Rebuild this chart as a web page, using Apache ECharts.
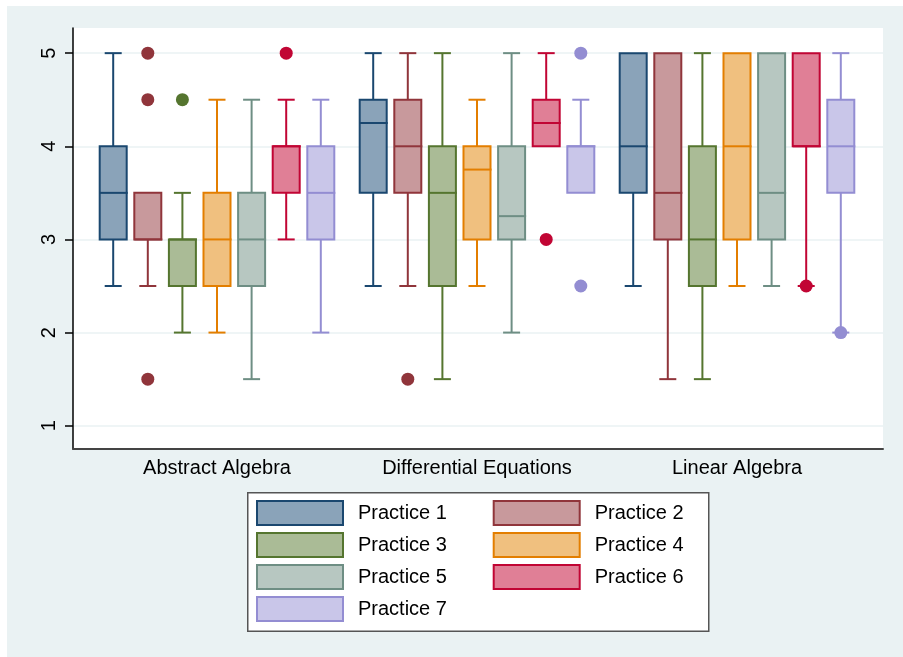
<!DOCTYPE html>
<html><head><meta charset="utf-8">
<script src="https://cdn.jsdelivr.net/npm/echarts@6/dist/echarts.min.js"></script>
<style>html,body{margin:0;padding:0;background:#fff}#c{width:903px;height:657px}</style>
</head><body><div id="c"></div>
<script>
// ---- data ----
const categories = ['Abstract Algebra', 'Differential Equations', 'Linear Algebra'];
const seriesNames = ['Practice 1', 'Practice 2', 'Practice 3', 'Practice 4', 'Practice 5', 'Practice 6', 'Practice 7'];
const yTicks = [1, 2, 3, 4, 5];
// [lower adjacent, q1, median, q3, upper adjacent] per category
const practice1 = [[2.5, 3, 3.5, 4, 5], [2.5, 3.5, 4.25, 4.5, 5], [2.5, 3.5, 4, 5, 5]];
const practice2 = [[2.5, 3, 3, 3.5, 3.5], [2.5, 3.5, 4, 4.5, 5], [1.5, 3, 3.5, 5, 5]];
const practice3 = [[2, 2.5, 3, 3, 3.5], [1.5, 2.5, 3.5, 4, 5], [1.5, 2.5, 3, 4, 5]];
const practice4 = [[2, 2.5, 3, 3.5, 4.5], [2.5, 3, 3.75, 4, 4.5], [2.5, 3, 4, 5, 5]];
const practice5 = [[1.5, 2.5, 3, 3.5, 4.5], [2, 3, 3.25, 4, 5], [2.5, 3, 3.5, 5, 5]];
const practice6 = [[3, 3.5, 4, 4, 4.5], [4, 4, 4.25, 4.5, 5], [2.5, 4, 4, 5, 5]];
const practice7 = [[2, 3, 3.5, 4, 4.5], [3.5, 3.5, 4, 4, 4.5], [2, 3.5, 4, 4.5, 5]];
// outliers: [category index, value]
const outliers1 = [];
const outliers2 = [[0, 5], [0, 4.5], [0, 1.5], [1, 1.5]];
const outliers3 = [[0, 4.5]];
const outliers4 = [];
const outliers5 = [];
const outliers6 = [[0, 5], [1, 3], [2, 2.5]];
const outliers7 = [[1, 5], [1, 2.5], [2, 2]];

// ---- styles ----
const strokeColors = ['#1a476f', '#90353b', '#55752f', '#e37e00', '#6e8e84', '#c10534', '#938dd2'];
const fillColors = ['#8aa3b9', '#c8999c', '#aabb96', '#f0c07f', '#b7c7c1', '#e07f96', '#c9c6e9'];
const BG = '#eaf2f3';
const FONT = 'Liberation Sans, Arial, Helvetica, sans-serif';
const PITCH = 34.6 / 260, BOXW = 27 / 260, CAPW = 17 / 260;

const boxes = [practice1, practice2, practice3, practice4, practice5, practice6, practice7];
const outs = [outliers1, outliers2, outliers3, outliers4, outliers5, outliers6, outliers7];

function boxRender(k) {
  return function (params, api) {
    const cat = api.value(0);
    const band = api.size([1, 0])[0];
    const cx = api.coord([cat, 3])[0] + (k - 3) * band * PITCH;
    const y = [1, 2, 3, 4, 5].map(i => api.coord([cat, api.value(i)])[1]);
    const bw = band * BOXW, cw = band * CAPW;
    const ls = { stroke: strokeColors[k], lineWidth: 2 };
    const ch = [];
    if (api.value(5) > api.value(4)) {
      ch.push({ type: 'line', shape: { x1: cx, y1: y[3], x2: cx, y2: y[4] }, style: ls });
      ch.push({ type: 'line', shape: { x1: cx - cw / 2, y1: y[4], x2: cx + cw / 2, y2: y[4] }, style: ls });
    }
    if (api.value(1) < api.value(2)) {
      ch.push({ type: 'line', shape: { x1: cx, y1: y[1], x2: cx, y2: y[0] }, style: ls });
      ch.push({ type: 'line', shape: { x1: cx - cw / 2, y1: y[0], x2: cx + cw / 2, y2: y[0] }, style: ls });
    }
    ch.push({ type: 'rect', shape: { x: cx - bw / 2, y: y[3], width: bw, height: y[1] - y[3] },
      style: { fill: fillColors[k], stroke: strokeColors[k], lineWidth: 2 } });
    ch.push({ type: 'line', shape: { x1: cx - bw / 2, y1: y[2], x2: cx + bw / 2 + 1, y2: y[2] }, style: ls });
    return { type: 'group', children: ch };
  };
}
function outRender(k) {
  return function (params, api) {
    const cat = api.value(0);
    const band = api.size([1, 0])[0];
    const p = api.coord([cat, api.value(1)]);
    const cx = p[0] + (k - 3) * band * PITCH;
    return { type: 'circle', shape: { cx: cx, cy: p[1], r: 6.5 }, style: { fill: strokeColors[k] } };
  };
}

const series = [];
boxes.forEach((b, k) => {
  series.push({
    name: seriesNames[k], type: 'custom', xAxisIndex: 1, yAxisIndex: 1,
    itemStyle: { color: fillColors[k], borderColor: strokeColors[k] },
    renderItem: boxRender(k), encode: { x: 0, y: [1, 2, 3, 4, 5] },
    data: b.map((s, i) => [i].concat(s)), silent: true, z: 2
  });
});
outs.forEach((o, k) => {
  series.push({
    name: seriesNames[k] + ' outliers', type: 'custom', xAxisIndex: 1, yAxisIndex: 1,
    renderItem: outRender(k), encode: { x: 0, y: 1 }, data: o, silent: true, z: 3
  });
});

function legendData(idx) {
  return idx.map(k => ({ name: seriesNames[k], icon: 'rect',
    itemStyle: { color: fillColors[k], borderColor: strokeColors[k], borderWidth: 2 } }));
}
const legendCommon = { orient: 'vertical', top: 500, padding: 0, itemWidth: 86, itemHeight: 24, itemGap: 6,
  selectedMode: false, textStyle: { fontSize: 20, lineHeight: 24, color: '#000', fontFamily: FONT, padding: [0, 0, 0, 10] } };

const chart = echarts.init(document.getElementById('c'), null, { renderer: 'canvas' });
chart.setOption({
  backgroundColor: '#fff',
  animation: false,
  textStyle: { fontFamily: FONT },
  graphic: [
    { type: 'rect', left: 7, top: 6, shape: { width: 896, height: 651 }, style: { fill: BG }, z: -10, silent: true },
    { type: 'rect', left: 247, top: 492, shape: { width: 461, height: 138.5 },
      style: { fill: '#fff', stroke: '#555', lineWidth: 1.5 }, z: 1, silent: true }
  ],
  legend: [
    Object.assign({ left: 256, data: legendData([0, 2, 4, 6]) }, legendCommon),
    Object.assign({ left: 492.7, data: legendData([1, 3, 5]) }, legendCommon)
  ],
  grid: [
    { left: 73, right: 20, top: 28, bottom: 208, show: true, backgroundColor: '#fff', borderWidth: 0 },
    { left: 87, width: 780, top: 28, bottom: 208 }
  ],
  xAxis: [
    { type: 'category', gridIndex: 0, data: categories,
      axisLine: { show: true, lineStyle: { color: '#444', width: 2 } },
      axisTick: { show: false }, axisLabel: { show: false }, splitLine: { show: false } },
    { type: 'category', gridIndex: 1, data: categories,
      axisLine: { show: false }, axisTick: { show: false },
      axisLabel: { fontSize: 20, color: '#000', margin: 9, fontFamily: FONT } }
  ],
  yAxis: [
    { type: 'value', gridIndex: 0, min: 0.75, max: 5.27,
      axisLine: { show: true, lineStyle: { color: '#000', width: 1.5 } },
      axisTick: { show: true, length: 8, customValues: yTicks, lineStyle: { color: '#000', width: 1.5 } },
      axisLabel: { customValues: yTicks, rotate: 90, fontSize: 20, color: '#000', margin: 14, fontFamily: FONT },
      splitLine: { show: true, lineStyle: { color: BG, width: 1.5 } } },
    { type: 'value', gridIndex: 1, min: 0.75, max: 5.27, show: false, splitLine: { show: false } }
  ],
  series: series
});
</script>
</body></html>
